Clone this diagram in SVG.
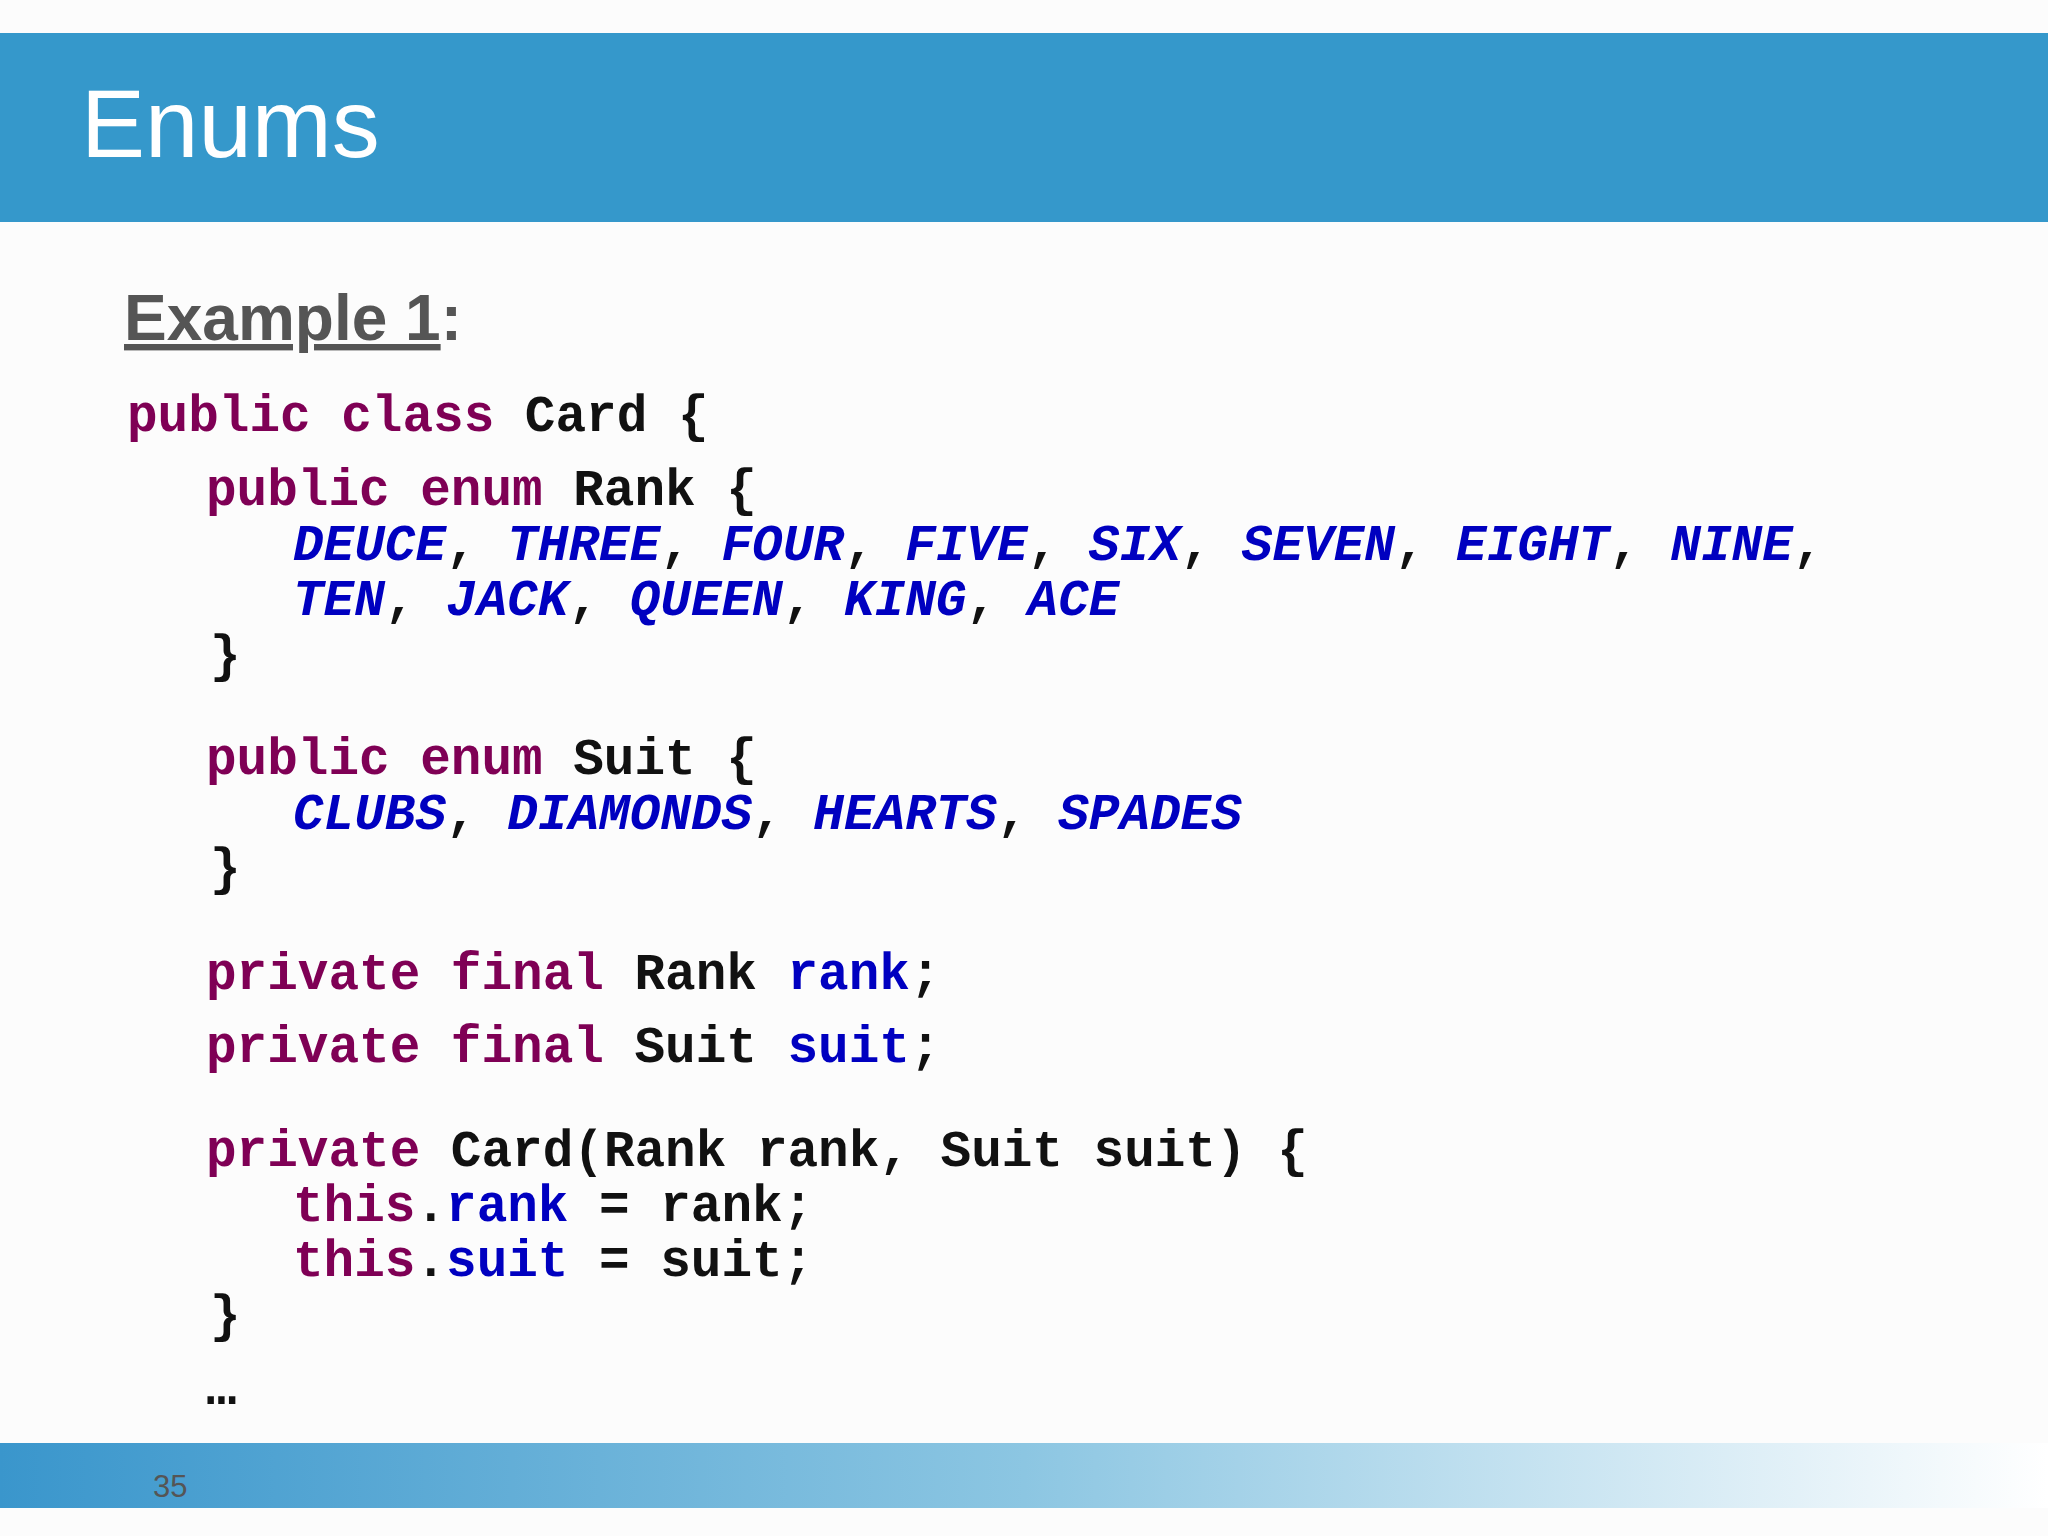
<svg xmlns="http://www.w3.org/2000/svg" width="2048" height="1536" viewBox="0 0 2048 1536">
<defs>
<linearGradient id="ft" x1="0" y1="0" x2="1" y2="0">
<stop offset="0" stop-color="#3a96cc"/><stop offset="0.5" stop-color="#8cc6e2"/><stop offset="1" stop-color="#ffffff"/>
</linearGradient>
<style>
.c{font-family:"Liberation Mono",monospace;font-weight:bold;font-size:51px;fill:#111}
.k{fill:#7f0055}
.v{fill:#0000c0}
.e{fill:#0000c0;font-style:italic}
</style>
</defs>
<rect width="2048" height="1536" fill="#fcfcfc"/>
<g id="header">
<rect x="0" y="33" width="2048" height="189" fill="#3598cb"/>
<text x="81" y="157" font-family="Liberation Sans,Arial,sans-serif" font-size="96" fill="#fff">Enums</text>
</g>
<g id="example">
<text x="124" y="340" font-family="Liberation Sans,Arial,sans-serif" font-weight="bold" font-size="64" fill="#555"><tspan text-decoration="underline">Example 1</tspan>:</text>
</g>
<g id="code" class="c" xml:space="preserve">
<text x="127" y="431"><tspan class="k">public class</tspan> Card {</text>
<text x="206" y="505"><tspan class="k">public enum</tspan> Rank {</text>
<text x="293" y="560"><tspan class="e">DEUCE</tspan>, <tspan class="e">THREE</tspan>, <tspan class="e">FOUR</tspan>, <tspan class="e">FIVE</tspan>, <tspan class="e">SIX</tspan>, <tspan class="e">SEVEN</tspan>, <tspan class="e">EIGHT</tspan>, <tspan class="e">NINE</tspan>,</text>
<text x="293" y="615"><tspan class="e">TEN</tspan>, <tspan class="e">JACK</tspan>, <tspan class="e">QUEEN</tspan>, <tspan class="e">KING</tspan>, <tspan class="e">ACE</tspan></text>
<text x="210" y="671">}</text>
<text x="206" y="774"><tspan class="k">public enum</tspan> Suit {</text>
<text x="293" y="829"><tspan class="e">CLUBS</tspan>, <tspan class="e">DIAMONDS</tspan>, <tspan class="e">HEARTS</tspan>, <tspan class="e">SPADES</tspan></text>
<text x="210" y="884">}</text>
<text x="206" y="989"><tspan class="k">private final</tspan> Rank <tspan class="v">rank</tspan>;</text>
<text x="206" y="1062"><tspan class="k">private final</tspan> Suit <tspan class="v">suit</tspan>;</text>
<text x="206" y="1166"><tspan class="k">private</tspan> Card(Rank rank, Suit suit) {</text>
<text x="293" y="1221"><tspan class="k">this</tspan>.<tspan class="v">rank</tspan> = rank;</text>
<text x="293" y="1276"><tspan class="k">this</tspan>.<tspan class="v">suit</tspan> = suit;</text>
<text x="210" y="1331">}</text>
<text x="206" y="1404">…</text>
</g>
<g id="footer">
<rect x="0" y="1443" width="2048" height="65" fill="url(#ft)"/>
<text x="153" y="1497" font-family="Liberation Sans,Arial,sans-serif" font-size="31" fill="#555">35</text>
</g>
</svg>
